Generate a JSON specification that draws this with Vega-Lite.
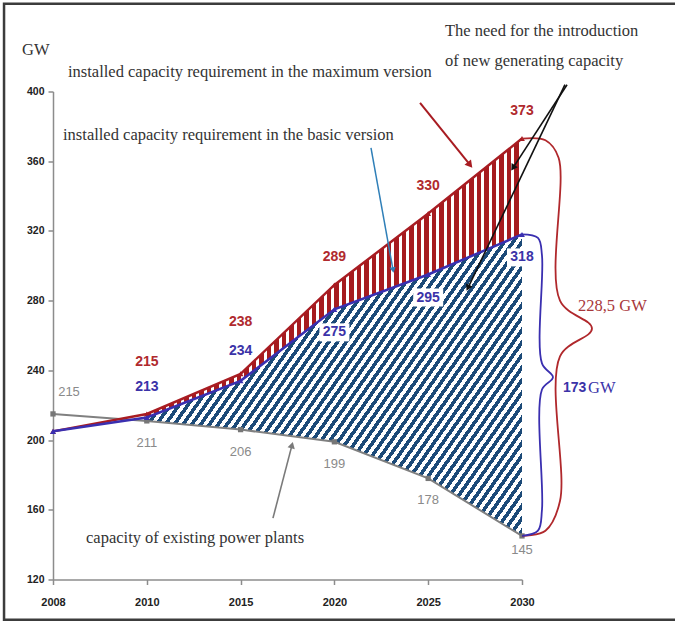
{
  "$schema": "https://vega.github.io/schema/vega-lite/v6.json",
  "width": 469,
  "height": 488,
  "autosize": "none",
  "padding": {"left": 53, "top": 91.5, "right": 153, "bottom": 41.5},
  "background": "white",
  "config": {
    "view": {"stroke": null},
    "font": "Liberation Sans",
    "axis": {
      "domainColor": "#8c8c8c",
      "domainWidth": 1.5,
      "tickColor": "#8c8c8c",
      "tickWidth": 1.5,
      "tickSize": 5,
      "labelFont": "Liberation Sans",
      "labelFontWeight": "bold",
      "labelColor": "#222222",
      "grid": false
    },
    "axisX": {"labelAngle": 0, "labelPadding": 12, "labelFontSize": 11},
    "axisY": {"labelPadding": 4, "labelFontSize": 10.5}
  },
  "datasets": {
    "capacity": [
      {"year": "2008", "max": 205, "basic": 205, "existing": 215},
      {"year": "2010", "max": 215, "basic": 213, "existing": 211},
      {"year": "2015", "max": 238, "basic": 234, "existing": 206},
      {"year": "2020", "max": 289, "basic": 275, "existing": 199},
      {"year": "2025", "max": 330, "basic": 295, "existing": 178},
      {"year": "2030", "max": 373, "basic": 318, "existing": 145}
    ],
    "frame": [{"slot": -0.522, "slot2": 6.7, "gw": 450.4, "gw2": 96.9}],
    "notes": [
      {"label": "GW", "slot": -0.33, "gw": 423.9},
      {"label": "installed capacity requirement in the maximum version", "slot": 0.16, "gw": 411.3},
      {"label": "installed capacity requirement in the basic version", "slot": 0.107, "gw": 375.1},
      {"label": "The need for the introduction", "slot": 4.179, "gw": 434.9},
      {"label": "of new generating capacity", "slot": 4.179, "gw": 417.6},
      {"label": "capacity of existing power plants", "slot": 0.352, "gw": 143.7}
    ],
    "arrows": [
      {"name": "max", "slot": 3.913, "gw": 393.5, "slot2": 4.446, "gw2": 357.9},
      {"name": "basic", "slot": 3.39, "gw": 367.7, "slot2": 3.625, "gw2": 297.6},
      {"name": "need1", "slot": 5.48, "gw": 403.9, "slot2": 4.904, "gw2": 356.2},
      {"name": "need2", "slot": 5.458, "gw": 403.9, "slot2": 4.424, "gw2": 287.3},
      {"name": "existing", "slot": 2.345, "gw": 155.2, "slot2": 2.548, "gw2": 197.1}
    ],
    "braces": [
      {"name": "max", "i": 0, "slot": 5.0, "gw": 373},
      {"name": "max", "i": 1, "slot": 5.25, "gw": 372},
      {"name": "max", "i": 2, "slot": 5.39, "gw": 362},
      {"name": "max", "i": 3, "slot": 5.405, "gw": 280},
      {"name": "max", "i": 4, "slot": 5.746, "gw": 264},
      {"name": "max", "i": 5, "slot": 5.405, "gw": 248},
      {"name": "max", "i": 6, "slot": 5.405, "gw": 165},
      {"name": "max", "i": 7, "slot": 5.25, "gw": 148},
      {"name": "max", "i": 8, "slot": 5.0, "gw": 145},
      {"name": "basic", "i": 0, "slot": 5.0, "gw": 318},
      {"name": "basic", "i": 1, "slot": 5.17, "gw": 316},
      {"name": "basic", "i": 2, "slot": 5.213, "gw": 306},
      {"name": "basic", "i": 3, "slot": 5.213, "gw": 244},
      {"name": "basic", "i": 4, "slot": 5.33, "gw": 236},
      {"name": "basic", "i": 5, "slot": 5.213, "gw": 229},
      {"name": "basic", "i": 6, "slot": 5.213, "gw": 160},
      {"name": "basic", "i": 7, "slot": 5.17, "gw": 148},
      {"name": "basic", "i": 8, "slot": 5.0, "gw": 145}
    ],
    "totals": [
      {"label": "228,5 GW", "series": "max", "slot": 5.597, "gw": 277.0},
      {"label": "173", "series": "basic", "slot": 5.437, "gw": 229.9},
      {"label": "GW", "series": "basic", "slot": 5.704, "gw": 229.9}
    ]
  },
  "layer": [
    {
      "data": {"name": "capacity"},
      "encoding": {
        "x": {
          "field": "year",
          "type": "ordinal",
          "scale": {"type": "point", "padding": 0, "domain": ["2008", "2010", "2015", "2020", "2025", "2030"]},
          "axis": {"title": null}
        }
      },
      "layer": [
        {
          "transform": [{"filter": {"field": "year", "oneOf": ["2010", "2015", "2020", "2025", "2030"]}}],
          "mark": {
            "type": "area",
            "fill": {
              "gradient": "linear", "x1": 0, "y1": 0, "x2": 1.187, "y2": 0.668,
              "stops": [
                {"offset":0,"color":"#1c4a78"},{"offset":0.0075,"color":"#1c4a78"},{"offset":0.0075,"color":"#fff"},{"offset":0.015,"color":"#fff"},
                {"offset":0.015,"color":"#1c4a78"},{"offset":0.0225,"color":"#1c4a78"},{"offset":0.0225,"color":"#fff"},{"offset":0.03,"color":"#fff"},
                {"offset":0.03,"color":"#1c4a78"},{"offset":0.0375,"color":"#1c4a78"},{"offset":0.0375,"color":"#fff"},{"offset":0.045,"color":"#fff"},
                {"offset":0.045,"color":"#1c4a78"},{"offset":0.0525,"color":"#1c4a78"},{"offset":0.0525,"color":"#fff"},{"offset":0.06,"color":"#fff"},
                {"offset":0.06,"color":"#1c4a78"},{"offset":0.0675,"color":"#1c4a78"},{"offset":0.0675,"color":"#fff"},{"offset":0.075,"color":"#fff"},
                {"offset":0.075,"color":"#1c4a78"},{"offset":0.0825,"color":"#1c4a78"},{"offset":0.0825,"color":"#fff"},{"offset":0.09,"color":"#fff"},
                {"offset":0.09,"color":"#1c4a78"},{"offset":0.0975,"color":"#1c4a78"},{"offset":0.0975,"color":"#fff"},{"offset":0.105,"color":"#fff"},
                {"offset":0.105,"color":"#1c4a78"},{"offset":0.1125,"color":"#1c4a78"},{"offset":0.1125,"color":"#fff"},{"offset":0.12,"color":"#fff"},
                {"offset":0.12,"color":"#1c4a78"},{"offset":0.1275,"color":"#1c4a78"},{"offset":0.1275,"color":"#fff"},{"offset":0.135,"color":"#fff"},
                {"offset":0.135,"color":"#1c4a78"},{"offset":0.1425,"color":"#1c4a78"},{"offset":0.1425,"color":"#fff"},{"offset":0.15,"color":"#fff"},
                {"offset":0.15,"color":"#1c4a78"},{"offset":0.1575,"color":"#1c4a78"},{"offset":0.1575,"color":"#fff"},{"offset":0.165,"color":"#fff"},
                {"offset":0.165,"color":"#1c4a78"},{"offset":0.1725,"color":"#1c4a78"},{"offset":0.1725,"color":"#fff"},{"offset":0.18,"color":"#fff"},
                {"offset":0.18,"color":"#1c4a78"},{"offset":0.1875,"color":"#1c4a78"},{"offset":0.1875,"color":"#fff"},{"offset":0.195,"color":"#fff"},
                {"offset":0.195,"color":"#1c4a78"},{"offset":0.2025,"color":"#1c4a78"},{"offset":0.2025,"color":"#fff"},{"offset":0.21,"color":"#fff"},
                {"offset":0.21,"color":"#1c4a78"},{"offset":0.2175,"color":"#1c4a78"},{"offset":0.2175,"color":"#fff"},{"offset":0.225,"color":"#fff"},
                {"offset":0.225,"color":"#1c4a78"},{"offset":0.2325,"color":"#1c4a78"},{"offset":0.2325,"color":"#fff"},{"offset":0.24,"color":"#fff"},
                {"offset":0.24,"color":"#1c4a78"},{"offset":0.2475,"color":"#1c4a78"},{"offset":0.2475,"color":"#fff"},{"offset":0.255,"color":"#fff"},
                {"offset":0.255,"color":"#1c4a78"},{"offset":0.2625,"color":"#1c4a78"},{"offset":0.2625,"color":"#fff"},{"offset":0.27,"color":"#fff"},
                {"offset":0.27,"color":"#1c4a78"},{"offset":0.2775,"color":"#1c4a78"},{"offset":0.2775,"color":"#fff"},{"offset":0.285,"color":"#fff"},
                {"offset":0.285,"color":"#1c4a78"},{"offset":0.2925,"color":"#1c4a78"},{"offset":0.2925,"color":"#fff"},{"offset":0.3,"color":"#fff"},
                {"offset":0.3,"color":"#1c4a78"},{"offset":0.3075,"color":"#1c4a78"},{"offset":0.3075,"color":"#fff"},{"offset":0.315,"color":"#fff"},
                {"offset":0.315,"color":"#1c4a78"},{"offset":0.3225,"color":"#1c4a78"},{"offset":0.3225,"color":"#fff"},{"offset":0.33,"color":"#fff"},
                {"offset":0.33,"color":"#1c4a78"},{"offset":0.3375,"color":"#1c4a78"},{"offset":0.3375,"color":"#fff"},{"offset":0.345,"color":"#fff"},
                {"offset":0.345,"color":"#1c4a78"},{"offset":0.3525,"color":"#1c4a78"},{"offset":0.3525,"color":"#fff"},{"offset":0.36,"color":"#fff"},
                {"offset":0.36,"color":"#1c4a78"},{"offset":0.3675,"color":"#1c4a78"},{"offset":0.3675,"color":"#fff"},{"offset":0.375,"color":"#fff"},
                {"offset":0.375,"color":"#1c4a78"},{"offset":0.3825,"color":"#1c4a78"},{"offset":0.3825,"color":"#fff"},{"offset":0.39,"color":"#fff"},
                {"offset":0.39,"color":"#1c4a78"},{"offset":0.3975,"color":"#1c4a78"},{"offset":0.3975,"color":"#fff"},{"offset":0.405,"color":"#fff"},
                {"offset":0.405,"color":"#1c4a78"},{"offset":0.4125,"color":"#1c4a78"},{"offset":0.4125,"color":"#fff"},{"offset":0.42,"color":"#fff"},
                {"offset":0.42,"color":"#1c4a78"},{"offset":0.4275,"color":"#1c4a78"},{"offset":0.4275,"color":"#fff"},{"offset":0.435,"color":"#fff"},
                {"offset":0.435,"color":"#1c4a78"},{"offset":0.4425,"color":"#1c4a78"},{"offset":0.4425,"color":"#fff"},{"offset":0.45,"color":"#fff"},
                {"offset":0.45,"color":"#1c4a78"},{"offset":0.4575,"color":"#1c4a78"},{"offset":0.4575,"color":"#fff"},{"offset":0.465,"color":"#fff"},
                {"offset":0.465,"color":"#1c4a78"},{"offset":0.4725,"color":"#1c4a78"},{"offset":0.4725,"color":"#fff"},{"offset":0.48,"color":"#fff"},
                {"offset":0.48,"color":"#1c4a78"},{"offset":0.4875,"color":"#1c4a78"},{"offset":0.4875,"color":"#fff"},{"offset":0.495,"color":"#fff"},
                {"offset":0.495,"color":"#1c4a78"},{"offset":0.5025,"color":"#1c4a78"},{"offset":0.5025,"color":"#fff"},{"offset":0.51,"color":"#fff"},
                {"offset":0.51,"color":"#1c4a78"},{"offset":0.5175,"color":"#1c4a78"},{"offset":0.5175,"color":"#fff"},{"offset":0.525,"color":"#fff"},
                {"offset":0.525,"color":"#1c4a78"},{"offset":0.5325,"color":"#1c4a78"},{"offset":0.5325,"color":"#fff"},{"offset":0.54,"color":"#fff"},
                {"offset":0.54,"color":"#1c4a78"},{"offset":0.5475,"color":"#1c4a78"},{"offset":0.5475,"color":"#fff"},{"offset":0.555,"color":"#fff"},
                {"offset":0.555,"color":"#1c4a78"},{"offset":0.5625,"color":"#1c4a78"},{"offset":0.5625,"color":"#fff"},{"offset":0.57,"color":"#fff"},
                {"offset":0.57,"color":"#1c4a78"},{"offset":0.5775,"color":"#1c4a78"},{"offset":0.5775,"color":"#fff"},{"offset":0.585,"color":"#fff"},
                {"offset":0.585,"color":"#1c4a78"},{"offset":0.5925,"color":"#1c4a78"},{"offset":0.5925,"color":"#fff"},{"offset":0.6,"color":"#fff"},
                {"offset":0.6,"color":"#1c4a78"},{"offset":0.6075,"color":"#1c4a78"},{"offset":0.6075,"color":"#fff"},{"offset":0.615,"color":"#fff"},
                {"offset":0.615,"color":"#1c4a78"},{"offset":0.6225,"color":"#1c4a78"},{"offset":0.6225,"color":"#fff"},{"offset":0.63,"color":"#fff"},
                {"offset":0.63,"color":"#1c4a78"},{"offset":0.6375,"color":"#1c4a78"},{"offset":0.6375,"color":"#fff"},{"offset":0.645,"color":"#fff"},
                {"offset":0.645,"color":"#1c4a78"},{"offset":0.6525,"color":"#1c4a78"},{"offset":0.6525,"color":"#fff"},{"offset":0.66,"color":"#fff"},
                {"offset":0.66,"color":"#1c4a78"},{"offset":0.6675,"color":"#1c4a78"},{"offset":0.6675,"color":"#fff"},{"offset":0.675,"color":"#fff"},
                {"offset":0.675,"color":"#1c4a78"},{"offset":0.6825,"color":"#1c4a78"},{"offset":0.6825,"color":"#fff"},{"offset":0.69,"color":"#fff"},
                {"offset":0.69,"color":"#1c4a78"},{"offset":0.6975,"color":"#1c4a78"},{"offset":0.6975,"color":"#fff"},{"offset":0.705,"color":"#fff"},
                {"offset":0.705,"color":"#1c4a78"},{"offset":0.7125,"color":"#1c4a78"},{"offset":0.7125,"color":"#fff"},{"offset":0.72,"color":"#fff"},
                {"offset":0.72,"color":"#1c4a78"},{"offset":0.7275,"color":"#1c4a78"},{"offset":0.7275,"color":"#fff"},{"offset":0.735,"color":"#fff"},
                {"offset":0.735,"color":"#1c4a78"},{"offset":0.7425,"color":"#1c4a78"},{"offset":0.7425,"color":"#fff"},{"offset":0.75,"color":"#fff"},
                {"offset":0.75,"color":"#1c4a78"},{"offset":0.7575,"color":"#1c4a78"},{"offset":0.7575,"color":"#fff"},{"offset":0.765,"color":"#fff"},
                {"offset":0.765,"color":"#1c4a78"},{"offset":0.7725,"color":"#1c4a78"},{"offset":0.7725,"color":"#fff"},{"offset":0.78,"color":"#fff"},
                {"offset":0.78,"color":"#1c4a78"},{"offset":0.7875,"color":"#1c4a78"},{"offset":0.7875,"color":"#fff"},{"offset":0.795,"color":"#fff"},
                {"offset":0.795,"color":"#1c4a78"},{"offset":0.8025,"color":"#1c4a78"},{"offset":0.8025,"color":"#fff"},{"offset":0.81,"color":"#fff"},
                {"offset":0.81,"color":"#1c4a78"},{"offset":0.8175,"color":"#1c4a78"},{"offset":0.8175,"color":"#fff"},{"offset":0.825,"color":"#fff"},
                {"offset":0.825,"color":"#1c4a78"},{"offset":0.8325,"color":"#1c4a78"},{"offset":0.8325,"color":"#fff"},{"offset":0.84,"color":"#fff"},
                {"offset":0.84,"color":"#1c4a78"},{"offset":0.8475,"color":"#1c4a78"},{"offset":0.8475,"color":"#fff"},{"offset":0.855,"color":"#fff"},
                {"offset":0.855,"color":"#1c4a78"},{"offset":0.8625,"color":"#1c4a78"},{"offset":0.8625,"color":"#fff"},{"offset":0.87,"color":"#fff"},
                {"offset":0.87,"color":"#1c4a78"},{"offset":0.8775,"color":"#1c4a78"},{"offset":0.8775,"color":"#fff"},{"offset":0.885,"color":"#fff"},
                {"offset":0.885,"color":"#1c4a78"},{"offset":0.8925,"color":"#1c4a78"},{"offset":0.8925,"color":"#fff"},{"offset":0.9,"color":"#fff"},
                {"offset":0.9,"color":"#1c4a78"},{"offset":0.9075,"color":"#1c4a78"},{"offset":0.9075,"color":"#fff"},{"offset":0.915,"color":"#fff"},
                {"offset":0.915,"color":"#1c4a78"},{"offset":0.9225,"color":"#1c4a78"},{"offset":0.9225,"color":"#fff"},{"offset":0.93,"color":"#fff"},
                {"offset":0.93,"color":"#1c4a78"},{"offset":0.9375,"color":"#1c4a78"},{"offset":0.9375,"color":"#fff"},{"offset":0.945,"color":"#fff"},
                {"offset":0.945,"color":"#1c4a78"},{"offset":0.9525,"color":"#1c4a78"},{"offset":0.9525,"color":"#fff"},{"offset":0.96,"color":"#fff"},
                {"offset":0.96,"color":"#1c4a78"},{"offset":0.9675,"color":"#1c4a78"},{"offset":0.9675,"color":"#fff"},{"offset":0.975,"color":"#fff"},
                {"offset":0.975,"color":"#1c4a78"},{"offset":0.9825,"color":"#1c4a78"},{"offset":0.9825,"color":"#fff"},{"offset":0.99,"color":"#fff"},
                {"offset":0.99,"color":"#1c4a78"},{"offset":0.9975,"color":"#1c4a78"},{"offset":0.9975,"color":"#fff"},{"offset":1,"color":"#fff"}
              ]
            }
          },
          "encoding": {
            "y": {
              "field": "basic",
              "type": "quantitative",
              "scale": {"domain": [120, 400], "nice": false, "zero": false},
              "axis": {"title": null, "values": [120, 160, 200, 240, 280, 320, 360, 400]}
            },
            "y2": {"field": "existing"}
          }
        },
        {
          "transform": [{"filter": {"field": "year", "oneOf": ["2010", "2015", "2020", "2025", "2030"]}}],
          "mark": {
            "type": "area",
            "fill": {
              "gradient": "linear", "x1": 0, "y1": 0, "x2": 1, "y2": 0,
              "stops": [
                {"offset":0,"color":"#a61b1f"},{"offset":0.012,"color":"#a61b1f"},{"offset":0.012,"color":"#fff"},{"offset":0.02,"color":"#fff"},
                {"offset":0.02,"color":"#a61b1f"},{"offset":0.032,"color":"#a61b1f"},{"offset":0.032,"color":"#fff"},{"offset":0.04,"color":"#fff"},
                {"offset":0.04,"color":"#a61b1f"},{"offset":0.052,"color":"#a61b1f"},{"offset":0.052,"color":"#fff"},{"offset":0.06,"color":"#fff"},
                {"offset":0.06,"color":"#a61b1f"},{"offset":0.072,"color":"#a61b1f"},{"offset":0.072,"color":"#fff"},{"offset":0.08,"color":"#fff"},
                {"offset":0.08,"color":"#a61b1f"},{"offset":0.092,"color":"#a61b1f"},{"offset":0.092,"color":"#fff"},{"offset":0.1,"color":"#fff"},
                {"offset":0.1,"color":"#a61b1f"},{"offset":0.112,"color":"#a61b1f"},{"offset":0.112,"color":"#fff"},{"offset":0.12,"color":"#fff"},
                {"offset":0.12,"color":"#a61b1f"},{"offset":0.132,"color":"#a61b1f"},{"offset":0.132,"color":"#fff"},{"offset":0.14,"color":"#fff"},
                {"offset":0.14,"color":"#a61b1f"},{"offset":0.152,"color":"#a61b1f"},{"offset":0.152,"color":"#fff"},{"offset":0.16,"color":"#fff"},
                {"offset":0.16,"color":"#a61b1f"},{"offset":0.172,"color":"#a61b1f"},{"offset":0.172,"color":"#fff"},{"offset":0.18,"color":"#fff"},
                {"offset":0.18,"color":"#a61b1f"},{"offset":0.192,"color":"#a61b1f"},{"offset":0.192,"color":"#fff"},{"offset":0.2,"color":"#fff"},
                {"offset":0.2,"color":"#a61b1f"},{"offset":0.212,"color":"#a61b1f"},{"offset":0.212,"color":"#fff"},{"offset":0.22,"color":"#fff"},
                {"offset":0.22,"color":"#a61b1f"},{"offset":0.232,"color":"#a61b1f"},{"offset":0.232,"color":"#fff"},{"offset":0.24,"color":"#fff"},
                {"offset":0.24,"color":"#a61b1f"},{"offset":0.252,"color":"#a61b1f"},{"offset":0.252,"color":"#fff"},{"offset":0.26,"color":"#fff"},
                {"offset":0.26,"color":"#a61b1f"},{"offset":0.272,"color":"#a61b1f"},{"offset":0.272,"color":"#fff"},{"offset":0.28,"color":"#fff"},
                {"offset":0.28,"color":"#a61b1f"},{"offset":0.292,"color":"#a61b1f"},{"offset":0.292,"color":"#fff"},{"offset":0.3,"color":"#fff"},
                {"offset":0.3,"color":"#a61b1f"},{"offset":0.312,"color":"#a61b1f"},{"offset":0.312,"color":"#fff"},{"offset":0.32,"color":"#fff"},
                {"offset":0.32,"color":"#a61b1f"},{"offset":0.332,"color":"#a61b1f"},{"offset":0.332,"color":"#fff"},{"offset":0.34,"color":"#fff"},
                {"offset":0.34,"color":"#a61b1f"},{"offset":0.352,"color":"#a61b1f"},{"offset":0.352,"color":"#fff"},{"offset":0.36,"color":"#fff"},
                {"offset":0.36,"color":"#a61b1f"},{"offset":0.372,"color":"#a61b1f"},{"offset":0.372,"color":"#fff"},{"offset":0.38,"color":"#fff"},
                {"offset":0.38,"color":"#a61b1f"},{"offset":0.392,"color":"#a61b1f"},{"offset":0.392,"color":"#fff"},{"offset":0.4,"color":"#fff"},
                {"offset":0.4,"color":"#a61b1f"},{"offset":0.412,"color":"#a61b1f"},{"offset":0.412,"color":"#fff"},{"offset":0.42,"color":"#fff"},
                {"offset":0.42,"color":"#a61b1f"},{"offset":0.432,"color":"#a61b1f"},{"offset":0.432,"color":"#fff"},{"offset":0.44,"color":"#fff"},
                {"offset":0.44,"color":"#a61b1f"},{"offset":0.452,"color":"#a61b1f"},{"offset":0.452,"color":"#fff"},{"offset":0.46,"color":"#fff"},
                {"offset":0.46,"color":"#a61b1f"},{"offset":0.472,"color":"#a61b1f"},{"offset":0.472,"color":"#fff"},{"offset":0.48,"color":"#fff"},
                {"offset":0.48,"color":"#a61b1f"},{"offset":0.492,"color":"#a61b1f"},{"offset":0.492,"color":"#fff"},{"offset":0.5,"color":"#fff"},
                {"offset":0.5,"color":"#a61b1f"},{"offset":0.512,"color":"#a61b1f"},{"offset":0.512,"color":"#fff"},{"offset":0.52,"color":"#fff"},
                {"offset":0.52,"color":"#a61b1f"},{"offset":0.532,"color":"#a61b1f"},{"offset":0.532,"color":"#fff"},{"offset":0.54,"color":"#fff"},
                {"offset":0.54,"color":"#a61b1f"},{"offset":0.552,"color":"#a61b1f"},{"offset":0.552,"color":"#fff"},{"offset":0.56,"color":"#fff"},
                {"offset":0.56,"color":"#a61b1f"},{"offset":0.572,"color":"#a61b1f"},{"offset":0.572,"color":"#fff"},{"offset":0.58,"color":"#fff"},
                {"offset":0.58,"color":"#a61b1f"},{"offset":0.592,"color":"#a61b1f"},{"offset":0.592,"color":"#fff"},{"offset":0.6,"color":"#fff"},
                {"offset":0.6,"color":"#a61b1f"},{"offset":0.612,"color":"#a61b1f"},{"offset":0.612,"color":"#fff"},{"offset":0.62,"color":"#fff"},
                {"offset":0.62,"color":"#a61b1f"},{"offset":0.632,"color":"#a61b1f"},{"offset":0.632,"color":"#fff"},{"offset":0.64,"color":"#fff"},
                {"offset":0.64,"color":"#a61b1f"},{"offset":0.652,"color":"#a61b1f"},{"offset":0.652,"color":"#fff"},{"offset":0.66,"color":"#fff"},
                {"offset":0.66,"color":"#a61b1f"},{"offset":0.672,"color":"#a61b1f"},{"offset":0.672,"color":"#fff"},{"offset":0.68,"color":"#fff"},
                {"offset":0.68,"color":"#a61b1f"},{"offset":0.692,"color":"#a61b1f"},{"offset":0.692,"color":"#fff"},{"offset":0.7,"color":"#fff"},
                {"offset":0.7,"color":"#a61b1f"},{"offset":0.712,"color":"#a61b1f"},{"offset":0.712,"color":"#fff"},{"offset":0.72,"color":"#fff"},
                {"offset":0.72,"color":"#a61b1f"},{"offset":0.732,"color":"#a61b1f"},{"offset":0.732,"color":"#fff"},{"offset":0.74,"color":"#fff"},
                {"offset":0.74,"color":"#a61b1f"},{"offset":0.752,"color":"#a61b1f"},{"offset":0.752,"color":"#fff"},{"offset":0.76,"color":"#fff"},
                {"offset":0.76,"color":"#a61b1f"},{"offset":0.772,"color":"#a61b1f"},{"offset":0.772,"color":"#fff"},{"offset":0.78,"color":"#fff"},
                {"offset":0.78,"color":"#a61b1f"},{"offset":0.792,"color":"#a61b1f"},{"offset":0.792,"color":"#fff"},{"offset":0.8,"color":"#fff"},
                {"offset":0.8,"color":"#a61b1f"},{"offset":0.812,"color":"#a61b1f"},{"offset":0.812,"color":"#fff"},{"offset":0.82,"color":"#fff"},
                {"offset":0.82,"color":"#a61b1f"},{"offset":0.832,"color":"#a61b1f"},{"offset":0.832,"color":"#fff"},{"offset":0.84,"color":"#fff"},
                {"offset":0.84,"color":"#a61b1f"},{"offset":0.852,"color":"#a61b1f"},{"offset":0.852,"color":"#fff"},{"offset":0.86,"color":"#fff"},
                {"offset":0.86,"color":"#a61b1f"},{"offset":0.872,"color":"#a61b1f"},{"offset":0.872,"color":"#fff"},{"offset":0.88,"color":"#fff"},
                {"offset":0.88,"color":"#a61b1f"},{"offset":0.892,"color":"#a61b1f"},{"offset":0.892,"color":"#fff"},{"offset":0.9,"color":"#fff"},
                {"offset":0.9,"color":"#a61b1f"},{"offset":0.912,"color":"#a61b1f"},{"offset":0.912,"color":"#fff"},{"offset":0.92,"color":"#fff"},
                {"offset":0.92,"color":"#a61b1f"},{"offset":0.932,"color":"#a61b1f"},{"offset":0.932,"color":"#fff"},{"offset":0.94,"color":"#fff"},
                {"offset":0.94,"color":"#a61b1f"},{"offset":0.952,"color":"#a61b1f"},{"offset":0.952,"color":"#fff"},{"offset":0.96,"color":"#fff"},
                {"offset":0.96,"color":"#a61b1f"},{"offset":0.972,"color":"#a61b1f"},{"offset":0.972,"color":"#fff"},{"offset":0.98,"color":"#fff"},
                {"offset":0.98,"color":"#a61b1f"},{"offset":0.992,"color":"#a61b1f"},{"offset":0.992,"color":"#fff"},{"offset":1,"color":"#fff"}
              ]
            }
          },
          "encoding": {
            "y": {"field": "max", "type": "quantitative", "axis": {"title": null, "values": [120, 160, 200, 240, 280, 320, 360, 400]}},
            "y2": {"field": "basic"}
          }
        },
        {
          "mark": {"type": "line", "color": "#808080", "strokeWidth": 2, "point": {"shape": "square", "size": 28, "filled": true, "color": "#777777"}},
          "encoding": {"y": {"field": "existing", "type": "quantitative", "axis": {"title": null, "values": [120, 160, 200, 240, 280, 320, 360, 400]}}}
        },
        {
          "mark": {"type": "line", "color": "#a81c22", "strokeWidth": 2.5, "point": {"shape": "triangle-up", "size": 34, "filled": true, "color": "#a81c22"}},
          "encoding": {"y": {"field": "max", "type": "quantitative", "axis": {"title": null, "values": [120, 160, 200, 240, 280, 320, 360, 400]}}}
        },
        {
          "mark": {"type": "line", "color": "#3a2fb0", "strokeWidth": 2.5, "point": {"shape": "triangle-up", "size": 34, "filled": true, "color": "#3a2fb0"}},
          "encoding": {"y": {"field": "basic", "type": "quantitative", "axis": {"title": null, "values": [120, 160, 200, 240, 280, 320, 360, 400]}}}
        },
        {
          "transform": [{"filter": {"field": "year", "oneOf": ["2020", "2025", "2030"]}}],
          "mark": {"type": "point", "shape": "M-1,-0.6H1V0.6H-1Z", "size": 900, "filled": true, "color": "white", "opacity": 1, "yOffset": 23},
          "encoding": {"y": {"field": "basic", "type": "quantitative", "axis": {"title": null, "values": [120, 160, 200, 240, 280, 320, 360, 400]}}}
        },
        {
          "transform": [{"filter": {"field": "year", "oneOf": ["2010", "2015"]}}],
          "mark": {"type": "text", "dy": -52, "fontSize": 14, "fontWeight": "bold", "color": "#b02a2e"},
          "encoding": {"y": {"field": "max", "type": "quantitative", "axis": {"title": null, "values": [120, 160, 200, 240, 280, 320, 360, 400]}}, "text": {"field": "max"}}
        },
        {
          "transform": [{"filter": {"field": "year", "oneOf": ["2020", "2025", "2030"]}}],
          "mark": {"type": "text", "dy": -28, "fontSize": 14, "fontWeight": "bold", "color": "#b02a2e"},
          "encoding": {"y": {"field": "max", "type": "quantitative", "axis": {"title": null, "values": [120, 160, 200, 240, 280, 320, 360, 400]}}, "text": {"field": "max"}}
        },
        {
          "transform": [{"filter": {"field": "year", "oneOf": ["2010", "2015"]}}],
          "mark": {"type": "text", "dy": -30, "fontSize": 14, "fontWeight": "bold", "color": "#3b33a8"},
          "encoding": {"y": {"field": "basic", "type": "quantitative", "axis": {"title": null, "values": [120, 160, 200, 240, 280, 320, 360, 400]}}, "text": {"field": "basic"}}
        },
        {
          "transform": [{"filter": {"field": "year", "oneOf": ["2020", "2025", "2030"]}}],
          "mark": {"type": "text", "dy": 23, "fontSize": 14, "fontWeight": "bold", "color": "#3b33a8"},
          "encoding": {"y": {"field": "basic", "type": "quantitative", "axis": {"title": null, "values": [120, 160, 200, 240, 280, 320, 360, 400]}}, "text": {"field": "basic"}}
        },
        {
          "transform": [{"filter": {"field": "year", "oneOf": ["2008"]}}],
          "mark": {"type": "text", "dx": 16, "dy": -22, "fontSize": 13, "color": "#8a8a8a"},
          "encoding": {"y": {"field": "existing", "type": "quantitative", "axis": {"title": null, "values": [120, 160, 200, 240, 280, 320, 360, 400]}}, "text": {"field": "existing"}}
        },
        {
          "transform": [{"filter": {"field": "year", "oneOf": ["2010", "2015", "2020", "2025"]}}],
          "mark": {"type": "text", "dy": 22, "fontSize": 13, "color": "#8a8a8a"},
          "encoding": {"y": {"field": "existing", "type": "quantitative", "axis": {"title": null, "values": [120, 160, 200, 240, 280, 320, 360, 400]}}, "text": {"field": "existing"}}
        },
        {
          "transform": [{"filter": {"field": "year", "oneOf": ["2030"]}}],
          "mark": {"type": "text", "dy": 14, "fontSize": 13, "color": "#8a8a8a"},
          "encoding": {"y": {"field": "existing", "type": "quantitative", "axis": {"title": null, "values": [120, 160, 200, 240, 280, 320, 360, 400]}}, "text": {"field": "existing"}}
        }
      ]
    },
    {
      "encoding": {
        "x": {"field": "slot", "type": "quantitative", "scale": {"domain": [0, 5], "nice": false, "zero": false}, "axis": null}
      },
      "layer": [
        {
          "data": {"name": "frame"},
          "mark": {"type": "rect", "filled": false, "color": "#3c3c3c", "strokeWidth": 2.5},
          "encoding": {
            "x2": {"field": "slot2"},
            "y": {"field": "gw", "type": "quantitative", "scale": {"domain": [120, 400], "nice": false, "zero": false}, "axis": null},
            "y2": {"field": "gw2"}
          }
        },
        {
          "data": {"name": "braces"},
          "transform": [{"filter": {"field": "name", "equal": "max"}}],
          "mark": {"type": "line", "interpolate": "catmull-rom", "color": "#b0282c", "strokeWidth": 1.8},
          "encoding": {"y": {"field": "gw", "type": "quantitative", "axis": null}, "order": {"field": "i"}}
        },
        {
          "data": {"name": "braces"},
          "transform": [{"filter": {"field": "name", "equal": "basic"}}],
          "mark": {"type": "line", "interpolate": "catmull-rom", "color": "#3a2fb0", "strokeWidth": 1.8},
          "encoding": {"y": {"field": "gw", "type": "quantitative", "axis": null}, "order": {"field": "i"}}
        },
        {
          "data": {"name": "arrows"},
          "transform": [{"filter": {"field": "name", "equal": "max"}}],
          "layer": [
            {"mark": {"type": "rule", "color": "#a81c22", "strokeWidth": 2}, "encoding": {"x2": {"field": "slot2"}, "y": {"field": "gw", "type": "quantitative", "axis": null}, "y2": {"field": "gw2"}}},
            {"mark": {"type": "point", "shape": "triangle-up", "size": 70, "filled": true, "color": "#a81c22", "opacity": 1, "angle": 141}, "encoding": {"x": {"field": "slot2", "type": "quantitative", "axis": null}, "y": {"field": "gw2", "type": "quantitative", "axis": null}}}
          ]
        },
        {
          "data": {"name": "arrows"},
          "transform": [{"filter": {"field": "name", "equal": "basic"}}],
          "layer": [
            {"mark": {"type": "rule", "color": "#2f7fb8", "strokeWidth": 1.5}, "encoding": {"x2": {"field": "slot2"}, "y": {"field": "gw", "type": "quantitative", "axis": null}, "y2": {"field": "gw2"}}},
            {"mark": {"type": "point", "shape": "triangle-up", "size": 40, "filled": true, "color": "#2f7fb8", "opacity": 1, "angle": 170}, "encoding": {"x": {"field": "slot2", "type": "quantitative", "axis": null}, "y": {"field": "gw2", "type": "quantitative", "axis": null}}}
          ]
        },
        {
          "data": {"name": "arrows"},
          "transform": [{"filter": {"field": "name", "oneOf": ["need1", "need2"]}}],
          "mark": {"type": "rule", "color": "#111111", "strokeWidth": 1.6},
          "encoding": {"x2": {"field": "slot2"}, "y": {"field": "gw", "type": "quantitative", "axis": null}, "y2": {"field": "gw2"}}
        },
        {
          "data": {"name": "arrows"},
          "transform": [{"filter": {"field": "name", "equal": "need1"}}],
          "mark": {"type": "point", "shape": "triangle-up", "size": 55, "filled": true, "color": "#111111", "opacity": 1, "angle": 213},
          "encoding": {"x": {"field": "slot2", "type": "quantitative", "axis": null}, "y": {"field": "gw2", "type": "quantitative", "axis": null}}
        },
        {
          "data": {"name": "arrows"},
          "transform": [{"filter": {"field": "name", "equal": "need2"}}],
          "mark": {"type": "point", "shape": "triangle-up", "size": 55, "filled": true, "color": "#111111", "opacity": 1, "angle": 205.5},
          "encoding": {"x": {"field": "slot2", "type": "quantitative", "axis": null}, "y": {"field": "gw2", "type": "quantitative", "axis": null}}
        },
        {
          "data": {"name": "arrows"},
          "transform": [{"filter": {"field": "name", "equal": "existing"}}],
          "layer": [
            {"mark": {"type": "rule", "color": "#7a7a7a", "strokeWidth": 1.6}, "encoding": {"x2": {"field": "slot2"}, "y": {"field": "gw", "type": "quantitative", "axis": null}, "y2": {"field": "gw2"}}},
            {"mark": {"type": "point", "shape": "triangle-up", "size": 55, "filled": true, "color": "#7a7a7a", "opacity": 1, "angle": 14.6}, "encoding": {"x": {"field": "slot2", "type": "quantitative", "axis": null}, "y": {"field": "gw2", "type": "quantitative", "axis": null}}}
          ]
        },
        {
          "data": {"name": "notes"},
          "mark": {"type": "text", "align": "left", "baseline": "middle", "font": "Liberation Serif", "fontSize": 16.5, "color": "#333333"},
          "encoding": {"y": {"field": "gw", "type": "quantitative", "axis": null}, "text": {"field": "label"}}
        },
        {
          "data": {"name": "totals"},
          "transform": [{"filter": {"field": "series", "equal": "max"}}],
          "mark": {"type": "text", "align": "left", "baseline": "middle", "font": "Liberation Serif", "fontSize": 16.5, "color": "#a8373a"},
          "encoding": {"y": {"field": "gw", "type": "quantitative", "axis": null}, "text": {"field": "label"}}
        },
        {
          "data": {"name": "totals"},
          "transform": [{"filter": {"field": "label", "equal": "173"}}],
          "mark": {"type": "text", "align": "left", "baseline": "middle", "font": "Liberation Sans", "fontWeight": "bold", "fontSize": 14, "color": "#3b33a8"},
          "encoding": {"y": {"field": "gw", "type": "quantitative", "axis": null}, "text": {"field": "label"}}
        },
        {
          "data": {"name": "totals"},
          "transform": [{"filter": {"field": "series", "equal": "basic"}}, {"filter": {"field": "label", "equal": "GW"}}],
          "mark": {"type": "text", "align": "left", "baseline": "middle", "font": "Liberation Serif", "fontSize": 16.5, "color": "#3b33a8"},
          "encoding": {"y": {"field": "gw", "type": "quantitative", "axis": null}, "text": {"field": "label"}}
        }
      ]
    }
  ],
  "resolve": {"scale": {"x": "independent", "y": "independent"}}
}
